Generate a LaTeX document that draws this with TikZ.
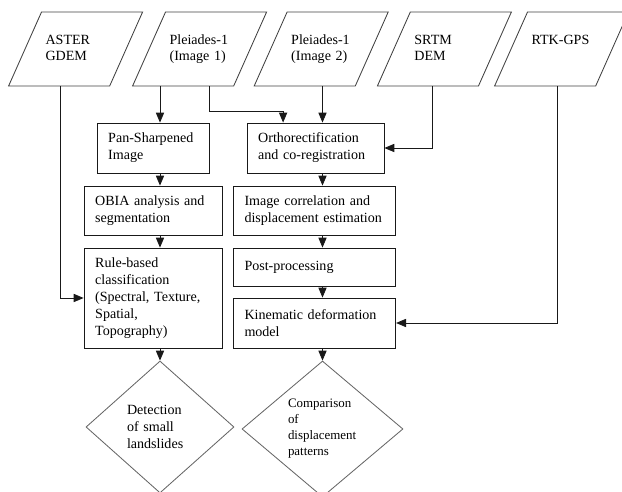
\documentclass[tikz,border=0pt]{standalone}
\usepackage{fontspec}
\setmainfont{Liberation Serif}
\usepackage{tikz}
\usetikzlibrary{arrows, shapes.geometric}

\begin{document}
\begin{tikzpicture}[
    font=\fontsize{10}{12}\selectfont,
    datain/.style={trapezium, trapezium left angle=66, trapezium right angle=114,
        trapezium stretches body, draw=black!75, line width=0.6pt,
        minimum width=3.35cm, minimum height=1.85cm, inner sep=0pt,
        text width=1.5cm, align=left, text height=22.8pt, text depth=29.8pt},
    proc/.style={rectangle, draw=black!90, line width=0.6pt, align=left, inner xsep=0.28cm},
    outcome/.style={diamond, draw=black!60, line width=0.6pt, inner sep=0pt, align=left},
    flow/.style={->, >=triangle 45, draw=black!90, line width=0.6pt}
]
    \useasboundingbox (0, 0) rectangle (15.55, 12.3);

    % input data
    \node[datain] (ast) at (1.89, 11.075) {ASTER\\GDEM};
    \node[datain] (pl1) at (4.99, 11.075) {Pleiades-1\\(Image 1)};
    \node[datain] (pl2) at (8.03, 11.075) {Pleiades-1\\(Image 2)};
    \node[datain] (srt) at (11.11, 11.075) {SRTM\\DEM};
    \node[datain] (rtk) at (14.04, 11.075) {RTK-GPS};

    % processing steps
    \node[proc, text width=2.24cm, minimum height=1.25cm] (pan) at (3.825, 8.6) {Pan-Sharpened\\Image};
    \node[proc, text width=2.865cm, minimum height=1.25cm] (ort) at (7.8875, 8.6) {Orthorectification\\and co-registration};
    \node[proc, text width=2.89cm, minimum height=1.225cm] (obi) at (3.825, 7.0375) {OBIA analysis and\\segmentation};
    \node[proc, text width=3.5cm, minimum height=1.225cm] (cor) at (7.8625, 7.0375) {Image correlation and\\displacement estimation};
    \node[proc, text width=2.89cm, minimum height=2.5cm] (rul) at (3.825, 4.85) {Rule-based\\classification\\(Spectral, Texture,\\Spatial,\\Topography)};
    \node[proc, text width=3.5cm, minimum height=0.95cm] (pos) at (7.8625, 5.625) {Post-processing};
    \node[proc, text width=3.5cm, minimum height=1.25cm] (kin) at (7.8625, 4.225) {Kinematic deformation\\model};

    % results
    \node[outcome, minimum width=3.7cm, minimum height=3.3cm, text width=1.65cm] (det) at (4.0, 1.625) {Detection\\of small\\landslides};
    \node[outcome, minimum width=4.025cm, minimum height=3.4cm, text width=1.725cm,
        font=\fontsize{9.2}{11.4}\selectfont] (cmp) at (8.0625, 1.575) {Comparison\\of\\displacement\\patterns};

    \draw[flow] (pl1.south -| det) -- (pan.north -| det);
    \draw[flow] ([xshift=0.24cm]pl1.south) -- ++(0, -0.625) -| ([xshift=-0.81cm]ort.north);
    \draw[flow] (pl2.south -| cmp) -- (ort.north -| cmp);
    \draw[flow] ([xshift=-0.29cm]srt.south) |- (ort.east);
    \draw[flow] ([xshift=-0.39cm]ast.south) |- (rul.west);
    \draw[flow] ([xshift=-0.1cm]rtk.south) |- (kin.east);
    \draw[flow] (pan.south -| det) -- (obi.north -| det);
    \draw[flow] (obi.south -| det) -- (rul.north -| det);
    \draw[flow] (rul.south -| det) -- (det.north);
    \draw[flow] (ort.south -| cmp) -- (cor.north -| cmp);
    \draw[flow] (cor.south -| cmp) -- (pos.north -| cmp);
    \draw[flow] (pos.south -| cmp) -- (kin.north -| cmp);
    \draw[flow] (kin.south -| cmp) -- (cmp.north);
\end{tikzpicture}
\end{document}
